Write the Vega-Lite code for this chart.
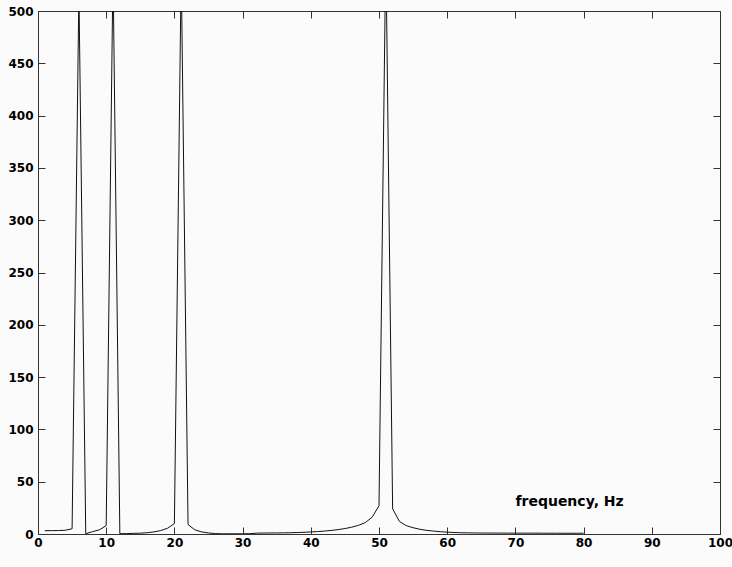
{
  "$schema": "https://vega.github.io/schema/vega-lite/v6.json",
  "width": 682,
  "height": 523,
  "autosize": {"type": "none"},
  "padding": {"left": 38, "top": 11, "right": 12, "bottom": 33},
  "background": "#fbfbfb",
  "config": {
    "view": {"stroke": null},
    "axis": {
      "domainColor": "#333333",
      "tickColor": "#333333",
      "labelColor": "#000000",
      "labelFont": "DejaVu Sans",
      "labelFontWeight": "bold",
      "labelFontSize": 12,
      "grid": false,
      "title": null,
      "tickSize": -7,
      "domainWidth": 1,
      "tickWidth": 1
    }
  },
  "datasets": {
    "spec": [
      {"f": 1, "a": 3.2}, {"f": 2, "a": 3.2}, {"f": 3, "a": 3.3}, {"f": 4, "a": 3.6}, {"f": 5, "a": 5},
      {"f": 6, "a": 520}, {"f": 7, "a": 0.3}, {"f": 8, "a": 2.2}, {"f": 9, "a": 4}, {"f": 10, "a": 8},
      {"f": 11, "a": 540}, {"f": 12, "a": 0.3}, {"f": 13, "a": 0.4}, {"f": 14, "a": 0.6}, {"f": 15, "a": 0.8},
      {"f": 16, "a": 1.2}, {"f": 17, "a": 2}, {"f": 18, "a": 3.3}, {"f": 19, "a": 5.5}, {"f": 20, "a": 10},
      {"f": 21, "a": 540}, {"f": 22, "a": 9}, {"f": 23, "a": 4}, {"f": 24, "a": 2}, {"f": 25, "a": 1},
      {"f": 26, "a": 0.4}, {"f": 27, "a": 0.2}, {"f": 28, "a": 0.2}, {"f": 29, "a": 0.2}, {"f": 30, "a": 0.2},
      {"f": 31, "a": 0.3}, {"f": 32, "a": 0.8}, {"f": 33, "a": 0.9}, {"f": 34, "a": 1}, {"f": 35, "a": 1},
      {"f": 36, "a": 1.1}, {"f": 37, "a": 1.2}, {"f": 38, "a": 1.4}, {"f": 39, "a": 1.6}, {"f": 40, "a": 2},
      {"f": 41, "a": 2.3}, {"f": 42, "a": 2.8}, {"f": 43, "a": 3.4}, {"f": 44, "a": 4.2}, {"f": 45, "a": 5.2},
      {"f": 46, "a": 6.5}, {"f": 47, "a": 8.3}, {"f": 48, "a": 11}, {"f": 49, "a": 16}, {"f": 50, "a": 27},
      {"f": 51, "a": 560}, {"f": 52, "a": 24}, {"f": 53, "a": 12}, {"f": 54, "a": 8}, {"f": 55, "a": 6},
      {"f": 56, "a": 4.5}, {"f": 57, "a": 3.5}, {"f": 58, "a": 2.8}, {"f": 59, "a": 2.2}, {"f": 60, "a": 1.8},
      {"f": 61, "a": 1.4}, {"f": 62, "a": 1.2}, {"f": 63, "a": 1.1}, {"f": 64, "a": 1}, {"f": 65, "a": 0.95},
      {"f": 66, "a": 0.9}, {"f": 67, "a": 0.9}, {"f": 68, "a": 0.85}, {"f": 69, "a": 0.85}, {"f": 70, "a": 0.8},
      {"f": 71, "a": 0.8}, {"f": 72, "a": 0.8}, {"f": 73, "a": 0.8}, {"f": 74, "a": 0.75}, {"f": 75, "a": 0.75},
      {"f": 76, "a": 0.75}, {"f": 77, "a": 0.7}, {"f": 78, "a": 0.7}, {"f": 79, "a": 0.7}, {"f": 80, "a": 0.8}
    ],
    "label": [{"f": 70, "a": 27, "t": "frequency, Hz"}]
  },
  "layer": [
    {
      "data": {"name": "spec"},
      "mark": {"type": "line", "color": "#111111", "strokeWidth": 1, "clip": true},
      "encoding": {
        "x": {
          "field": "f", "type": "quantitative",
          "scale": {"domain": [0, 100], "nice": false, "zero": false},
          "axis": {"orient": "bottom", "values": [0, 10, 20, 30, 40, 50, 60, 70, 80, 90, 100], "labelFlush": false, "labelOverlap": false, "labelPadding": 10}
        },
        "y": {
          "field": "a", "type": "quantitative",
          "scale": {"domain": [0, 500], "nice": false},
          "axis": {"orient": "left", "values": [0, 50, 100, 150, 200, 250, 300, 350, 400, 450, 500], "labelOverlap": false, "labelPadding": 12}
        }
      }
    },
    {
      "data": {"name": "label"},
      "mark": {"type": "text", "align": "left", "baseline": "alphabetic", "fontSize": 14, "font": "DejaVu Sans", "fontWeight": "bold", "color": "#000000"},
      "encoding": {
        "x": {
          "field": "f", "type": "quantitative",
          "axis": {"orient": "top", "labels": false, "values": [0, 10, 20, 30, 40, 50, 60, 70, 80, 90, 100]}
        },
        "y": {
          "field": "a", "type": "quantitative",
          "axis": {"orient": "right", "labels": false, "values": [0, 50, 100, 150, 200, 250, 300, 350, 400, 450, 500]}
        },
        "text": {"field": "t"}
      }
    }
  ],
  "resolve": {"axis": {"x": "independent", "y": "independent"}}
}
